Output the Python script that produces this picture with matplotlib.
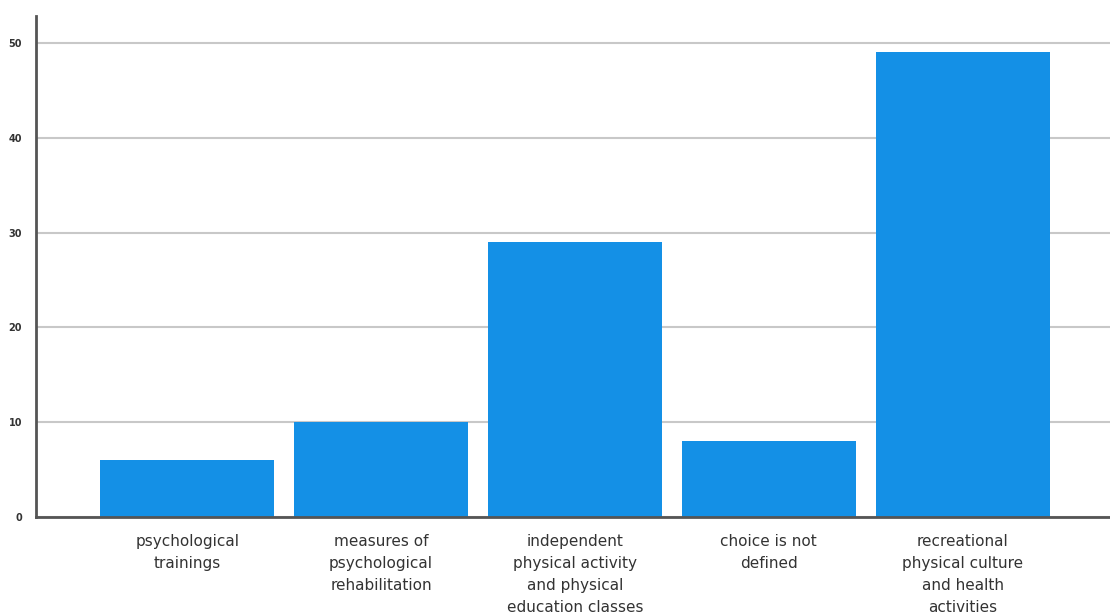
import matplotlib.pyplot as plt
import numpy as np

categories = ['psychological\ntrainings',
              'measures of\npsychological\nrehabilitation',
              'independent\nphysical activity\nand physical\neducation classes',
              'choice is not\ndefined',
              'recreational\nphysical culture\nand health\nactivities']
values = [6, 10, 29, 8, 49]
yticks = [0, 10, 20, 30, 40, 50]

fig = plt.figure(figsize=(11.1, 6.14), dpi=100)
ax = fig.add_axes([0.0324, 0.158, 0.9676, 0.816])

x = np.arange(len(categories))
ax.bar(x, values, width=0.897, color='#1490e6', zorder=3)

ax.set_xlim(-0.78, 4.76)
ax.set_ylim(0, 52.85)
ax.set_yticks(yticks)
ax.set_yticklabels([str(t) for t in yticks], fontsize=7, color='#333333', fontweight='bold')
ax.set_xticks(x)
ax.set_xticklabels(categories, fontsize=11, color='#333333', linespacing=1.58, va='top')
ax.tick_params(axis='x', length=0, pad=12)
ax.tick_params(axis='y', length=0, pad=10)

ax.grid(axis='y', color='#c8c8c8', linewidth=1.5, zorder=0)
for s in ['top', 'right']:
    ax.spines[s].set_visible(False)
ax.spines['left'].set_color('#555555')
ax.spines['left'].set_linewidth(2)
ax.spines['bottom'].set_color('#555555')
ax.spines['bottom'].set_linewidth(2)
ax.spines['bottom'].set_zorder(4)

fig.savefig('out.png', dpi=100)
